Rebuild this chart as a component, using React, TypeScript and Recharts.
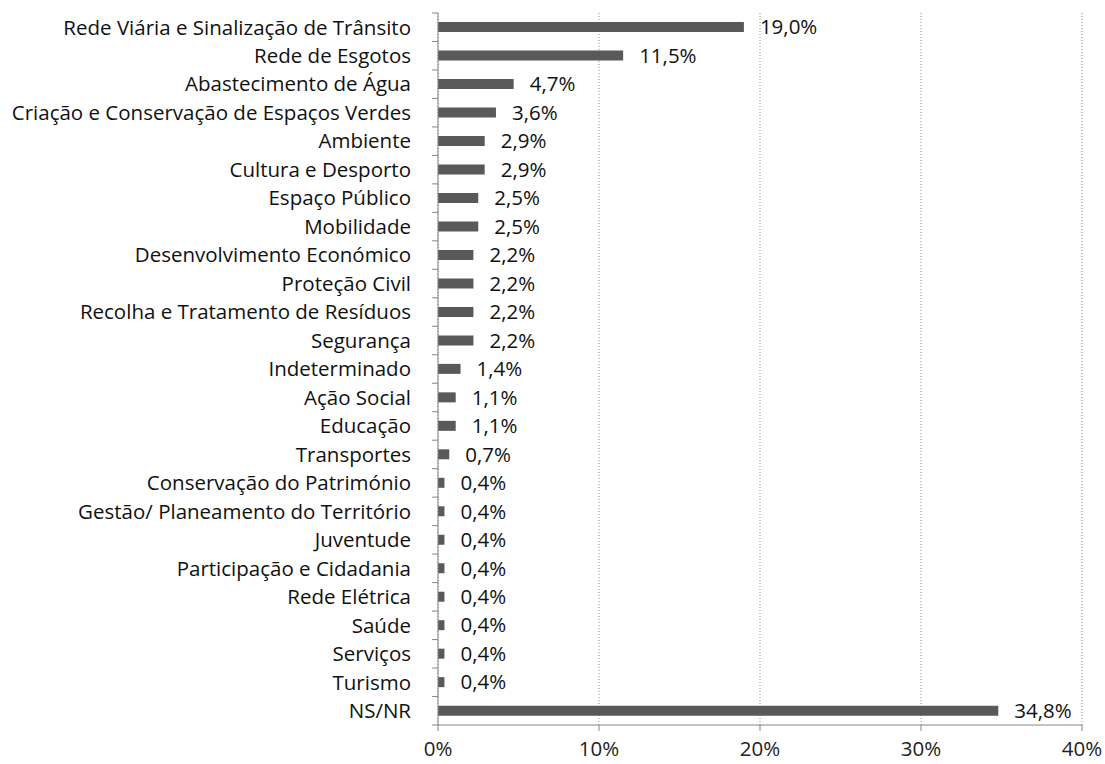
import { BarChart, Bar, XAxis, YAxis, CartesianGrid, LabelList } from 'recharts';

const categories = [
  'Rede Viária e Sinalização de Trânsito',
  'Rede de Esgotos',
  'Abastecimento de Água',
  'Criação e Conservação de Espaços Verdes',
  'Ambiente',
  'Cultura e Desporto',
  'Espaço Público',
  'Mobilidade',
  'Desenvolvimento Económico',
  'Proteção Civil',
  'Recolha e Tratamento de Resíduos',
  'Segurança',
  'Indeterminado',
  'Ação Social',
  'Educação',
  'Transportes',
  'Conservação do Património',
  'Gestão/ Planeamento do Território',
  'Juventude',
  'Participação e Cidadania',
  'Rede Elétrica',
  'Saúde',
  'Serviços',
  'Turismo',
  'NS/NR',
];

const values = [
  19.0, 11.5, 4.7, 3.6, 2.9, 2.9, 2.5, 2.5, 2.2, 2.2, 2.2, 2.2, 1.4, 1.1, 1.1, 0.7,
  0.4, 0.4, 0.4, 0.4, 0.4, 0.4, 0.4, 0.4, 34.8,
];

const xTicks = [0, 10, 20, 30, 40];

const data = categories.map((name, i) => ({ name, value: values[i] }));

const font = '"Open Sans", Lato, sans-serif';
const axisColor = '#868686';

const W = 1105;
const H = 764;
const M = { top: 13, right: 23, bottom: 0, left: 0 };
const X_AXIS_H = 39;
const Y_AXIS_W = 438;
const band = (H - M.top - M.bottom - X_AXIS_H) / categories.length;

// category label plus the small tick mark on the boundary above it (Excel style)
function CategoryTick(props: any) {
  const { y, payload, index } = props;
  const ax = M.left + Y_AXIS_W;
  return (
    <g>
      <line x1={ax - 6} x2={ax} y1={y - band / 2} y2={y - band / 2} stroke={axisColor} />
      {index === categories.length - 1 && (
        <line x1={ax - 6} x2={ax} y1={y + band / 2} y2={y + band / 2} stroke={axisColor} />
      )}
      <text x={ax - 27} y={y} dy="0.355em" textAnchor="end" fill="#111" fontSize={20.5} fontFamily={font}>
        {payload.value}
      </text>
    </g>
  );
}

export default function App() {
  return (
    <div style={{ position: 'absolute', left: 0, top: 0, width: W, height: H, background: '#fff' }}>
      <BarChart
        width={W}
        height={H}
        data={data}
        layout="vertical"
        margin={M}
        barCategoryGap="32%"
      >
        <CartesianGrid horizontal={false} stroke="#8c8c8c" strokeDasharray="1 2" />
        <XAxis
          type="number"
          domain={[0, 40]}
          ticks={xTicks}
          tickFormatter={(v: number) => `${v}%`}
          stroke={axisColor}
          tickSize={6}
          tick={{ fill: '#222', fontSize: 20.5, fontFamily: font, dy: 8 }}
          height={X_AXIS_H}
        />
        <YAxis
          type="category"
          dataKey="name"
          width={Y_AXIS_W}
          stroke={axisColor}
          tickLine={false}
          interval={0}
          tick={<CategoryTick />}
        />
        <Bar dataKey="value" fill="#595959" isAnimationActive={false}>
          <LabelList
            dataKey="value"
            position="right"
            offset={16}
            formatter={(v: number) => `${v.toFixed(1).replace('.', ',')}%`}
            style={{ fill: '#111', fontSize: 20.5, fontFamily: font }}
          />
        </Bar>
      </BarChart>
    </div>
  );
}
